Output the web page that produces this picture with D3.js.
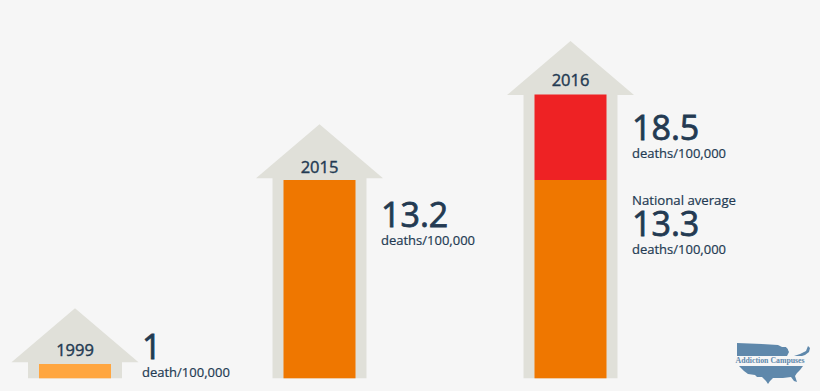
<!DOCTYPE html>
<html>
<head>
<meta charset="utf-8">
<script src="https://cdn.jsdelivr.net/npm/d3@7"></script>
<style>
html,body{margin:0;padding:0;background:#f6f6f6;}
svg{display:block;}
text{font-family:"Open Sans",sans-serif;fill:#233a52;stroke:#233a52;paint-order:stroke;}
text.year{stroke-width:0.4;}
text.big{stroke-width:0.8;}
text.small{stroke-width:0.2;}
</style>
</head>
<body>
<svg id="chart" width="820" height="391"></svg>
<script>
const years = ["1999", "2015", "2016"];
const baseValues = [1, 13.2, 13.3];
const extraValues = [0, 0, 18.5];
const valueLabels = ["1", "13.2", "18.5"];
const unitLabels = ["death/100,000", "deaths/100,000", "deaths/100,000"];
const averageLabel = "National average";
const averageValue = "13.3";
const averageUnit = "deaths/100,000";
const brand = "Addiction Campuses";

const W = 820, H = 391;
const svg = d3.select("#chart");
svg.append("rect").attr("width", W).attr("height", H).attr("fill", "#f6f6f6");

// The source graphic is not strictly linear: piecewise value scale
const y = d3.scaleLinear().domain([0, 1, 13.2, 13.3, 18.5]).range([378.3, 364, 180, 180, 94.5]);
const x = d3.scaleOrdinal().domain(years).range([75, 319.5, 570.5]);

const barW = 72, bodyW = 94, headW = 127, headH = 54;
const headGap = {"1999": 1.7, "2015": 1.7, "2016": -0.5};
const labelX = {"1999": 142, "2015": 381, "2016": 632};
const colors = {"1999": "#ffa640", "2015": "#ef7700", "2016": "#ef7700"};

const groups = years.map((yr, i) => ({
  yr, base: baseValues[i], extra: extraValues[i],
  top: Math.max(baseValues[i], extraValues[i]),
  value: valueLabels[i], unit: unitLabels[i]
}));

// arrow silhouettes
svg.selectAll("path.arrow").data(groups).join("path")
  .attr("class", "arrow")
  .attr("fill", "#e0e0d9")
  .attr("d", d => {
    const c = x(d.yr), b = y(d.top) - headGap[d.yr], y0 = y(0);
    return d3.line()([
      [c - bodyW / 2, y0], [c - bodyW / 2, b], [c - headW / 2, b],
      [c, b - headH], [c + headW / 2, b], [c + bodyW / 2, b], [c + bodyW / 2, y0]
    ]) + "Z";
  });

// bars
svg.selectAll("rect.base").data(groups).join("rect")
  .attr("class", "base")
  .attr("x", d => x(d.yr) - barW / 2)
  .attr("width", barW)
  .attr("y", d => y(d.base))
  .attr("height", d => y(0) - y(d.base))
  .attr("fill", d => colors[d.yr]);

svg.selectAll("rect.extra").data(groups.filter(d => d.extra > 0)).join("rect")
  .attr("class", "extra")
  .attr("x", d => x(d.yr) - barW / 2)
  .attr("width", barW)
  .attr("y", d => y(d.extra))
  .attr("height", d => y(d.base) - y(d.extra))
  .attr("fill", "#ee2224");

// year labels
const yearDy = {"1999": -8, "2015": -7.5, "2016": -8.5};
svg.selectAll("text.year").data(groups).join("text")
  .attr("class", "year")
  .attr("x", d => x(d.yr))
  .attr("y", d => y(d.top) + yearDy[d.yr])
  .attr("text-anchor", "middle")
  .attr("font-size", 16.5)
  .text(d => d.yr);

// value labels
const bigDy = {"1999": -5, "2015": 47, "2016": 45};
const unitDy = {"1999": 13, "2015": 65, "2016": 63.5};
svg.selectAll("text.value").data(groups).join("text")
  .attr("class", "value big")
  .attr("x", d => labelX[d.yr])
  .attr("y", d => y(d.top) + bigDy[d.yr])
  .attr("font-size", 34)
  .text(d => d.value);

svg.selectAll("text.unit").data(groups).join("text")
  .attr("class", "unit small")
  .attr("x", d => labelX[d.yr])
  .attr("y", d => y(d.top) + unitDy[d.yr])
  .attr("font-size", 13)
  .text(d => d.unit);

// national average annotation
const ax = labelX["2016"], ay = y(13.3);
svg.append("text").attr("class", "small").attr("x", ax).attr("y", ay + 24.5).attr("font-size", 13.2).text(averageLabel);
svg.append("text").attr("class", "big").attr("x", ax).attr("y", ay + 56).attr("font-size", 34).text(averageValue);
svg.append("text").attr("class", "small").attr("x", ax).attr("y", ay + 74).attr("font-size", 13).text(averageUnit);

// brand mark
const logo = svg.append("g").attr("fill", "#5f88ab");
logo.append("path").attr("d", "M737 343L762 344L778 345L782 347L786 347L788 350L785 356L737 356Z");
logo.append("path").attr("d", "M785 349L787 348L789 352L787 356L785 356Z");
logo.append("path").attr("d", "M794 356L800 354L806 351L808 346L810 348L809 352L805 355L802 356Z");
logo.append("path").attr("d", "M739 366L803 366L800 370L797 373L795 376L797 382L794 381L791 377L783 378L777 378L773 378L770 381L768 384L766 381L762 377L757 377L755 375L748 374L744 371Z");
logo.append("text").attr("x", 735.5).attr("y", 363)
  .style("font-family", '"Liberation Serif",serif').style("fill", "#5f88ab").style("stroke", "none")
  .attr("font-size", 7.8).attr("font-weight", 700).text(brand);
</script>
</body>
</html>
